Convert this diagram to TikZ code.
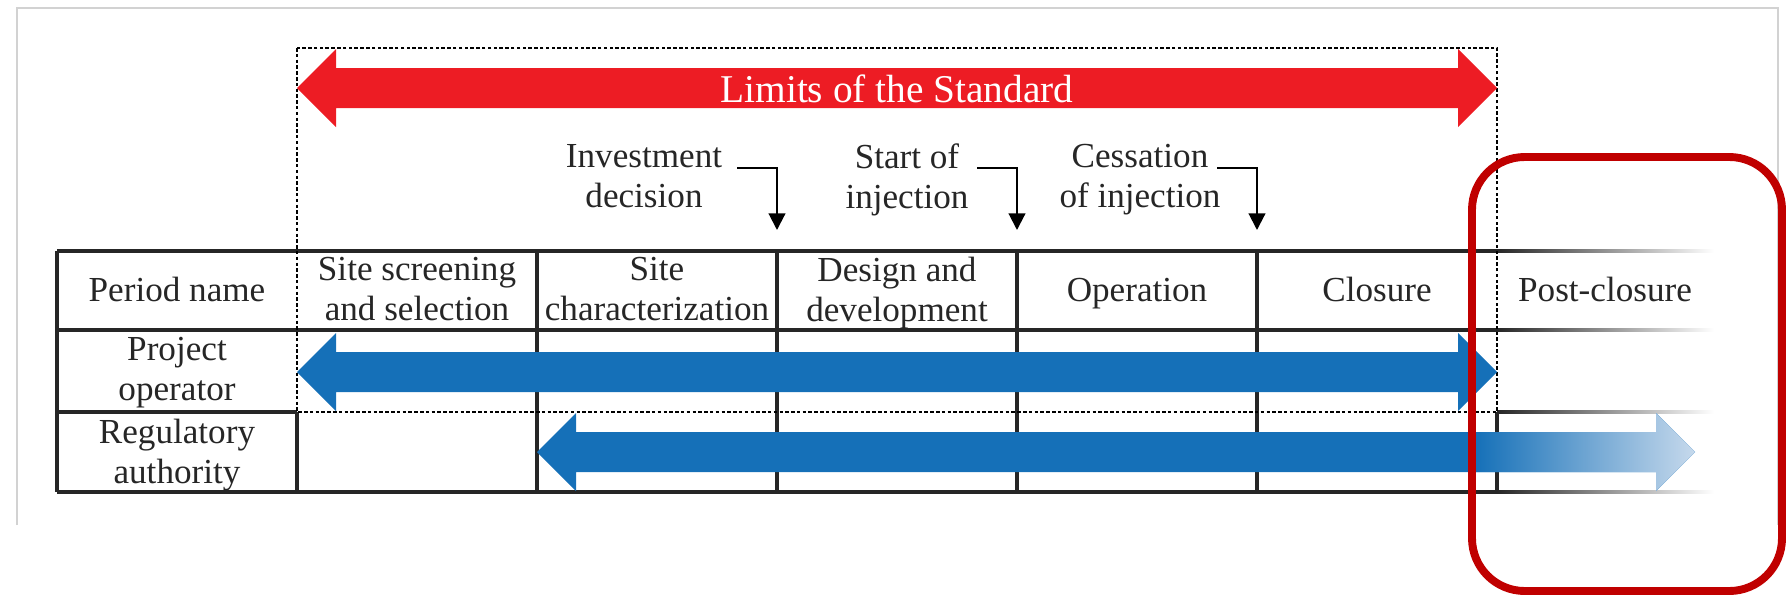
\documentclass[tikz,border=0pt]{standalone}
\usepackage{fontspec}
\setmainfont{Liberation Serif}
\usetikzlibrary{arrows.meta}

\definecolor{stdred}{HTML}{ED1C24}
\definecolor{opblue}{HTML}{1570B8}
\definecolor{fadeblue}{HTML}{C6D9EC}
\definecolor{markred}{HTML}{C00000}
\definecolor{framegray}{HTML}{D2D2D2}

\begin{document}
\begin{tikzpicture}[x=0.02cm,y=-0.02cm]
    \newcommand{\cellfont}[0]{\fontsize{20}{22.8}\selectfont}
    \newcommand{\spanarrow}[4]{%
      \fill[#4] (#1,#3) -- (#1+39,#3-39) -- (#1+39,#3-20) -- (#2-39,#3-20)
        -- (#2-39,#3-39) -- (#2,#3) -- (#2-39,#3+39) -- (#2-39,#3+20)
        -- (#1+39,#3+20) -- (#1+39,#3+39) -- cycle;}
    \newcommand{\fadeline}[1]{%
      \shade[left color=black!85, right color=white] (1497,#1-1.5) rectangle (1714,#1+1.5);}

    \tikzstyle{cell}=[
      align=center,
      inner sep=0pt,
      text=black!85,
      font=\cellfont,
      execute at begin node=\strut,
      execute at end node=\strut,
    ]
    \tikzstyle{grid} = [line width=1.8pt,draw=black!85]
    \tikzstyle{limitbox} = [line width=1.3pt,draw=black,dash pattern=on 2pt off 1.3pt]
    \tikzstyle{mstone} = [line width=1.2pt,-{Triangle[width=9.5pt,length=9.5pt]},draw=black]

    \useasboundingbox (0,0) rectangle (1786,596);

    % page frame
    \draw[framegray, line width=1.6pt] (17,525) -- (17,8) -- (1778,8) -- (1778,525);

    % table lines
    \draw[grid] (57,251) -- (1497,251);
    \draw[grid] (57,330) -- (1497,330);
    \draw[grid] (57,412) -- (297,412);
    \draw[grid] (57,492) -- (1497,492);
    \draw[grid] (57,251) -- (57,492);
    \draw[grid] (297,412) -- (297,492);
    \draw[grid] (537,251) -- (537,492);
    \draw[grid] (777,251) -- (777,492);
    \draw[grid] (1017,251) -- (1017,492);
    \draw[grid] (1257,251) -- (1257,492);
    \draw[grid] (1497,412) -- (1497,492);
    \fadeline{251}
    \fadeline{330}
    \fadeline{412}
    \fadeline{492}

    % scope of the standard
    \draw[limitbox] (297,48) rectangle (1497,412);

    \spanarrow{297}{1497}{88}{stdred}
    \spanarrow{297}{1497}{372}{opblue}
    \spanarrow{537}{1695}{452}{opblue}
    \shade[left color=opblue, right color=fadeblue] (1475,432) -- (1656,432) -- (1656,413)
      -- (1695,452) -- (1656,491) -- (1656,472) -- (1475,472) -- cycle;

    \node[cell, text=white, font=\fontsize{22.4}{25}\selectfont] (limits) at (897,94) {Limits of the Standard};

    % header row
    \node[cell] (pname) at (177,293) {Period name};
    \node[cell] (screen) at (417,295) {Site screening\\and selection};
    \node[cell] (charac) at (657,295) {Site\\characterization};
    \node[cell] (design) at (897,295) {Design and\\development};
    \node[cell] (oper) at (1137,293) {Operation};
    \node[cell] (closure) at (1377,293) {Closure};
    \node[cell] (post) at (1605,293) {Post-closure};

    \node[cell] (proj) at (177,375) {Project\\operator};
    \node[cell] (regul) at (177,457) {Regulatory\\authority};

    % milestones
    \node[cell] (invest) at (644,182) {Investment\\decision};
    \node[cell] (start) at (907,182) {Start of\\injection};
    \node[cell] (cease) at (1140,182) {Cessation\\of injection};

    \coordinate (investpt) at (777,230);
    \coordinate (startpt) at (1017,230);
    \coordinate (ceasept) at (1257,230);
    \draw[mstone] ([shift={(-40,-62)}]investpt) -| (investpt);
    \draw[mstone] ([shift={(-40,-62)}]startpt) -| (startpt);
    \draw[mstone] ([shift={(-40,-62)}]ceasept) -| (ceasept);

    % post-closure highlight
    \draw[markred, line width=4.5pt, rounded corners=30pt] (1472,157) rectangle (1782,591);
\end{tikzpicture}
\end{document}
